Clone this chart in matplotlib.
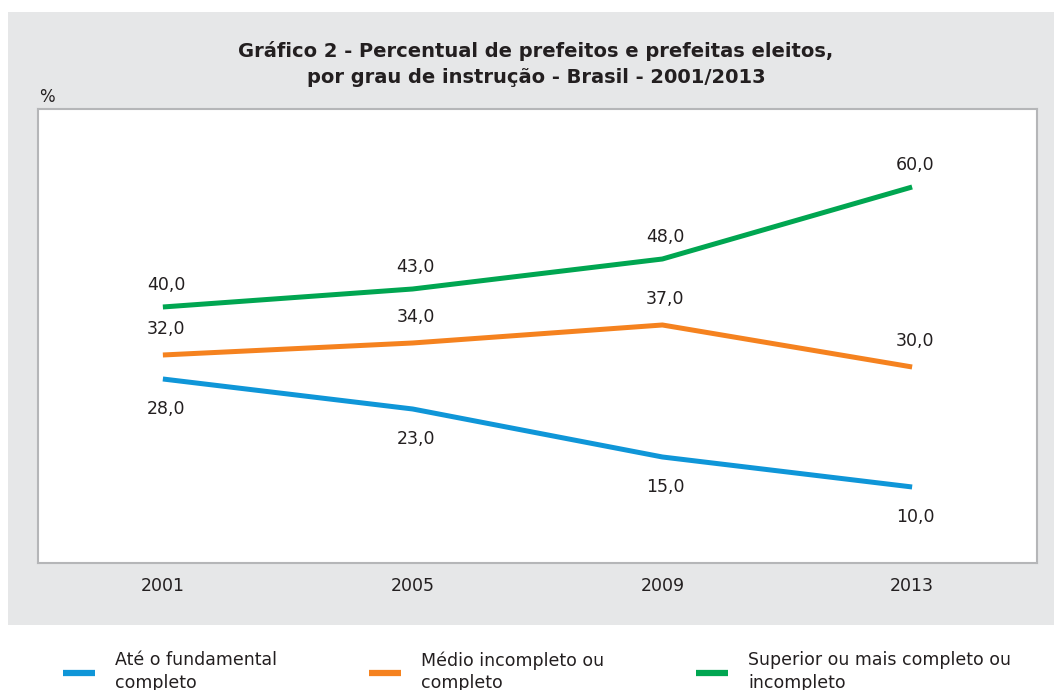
import matplotlib.pyplot as plt
from matplotlib.patches import Rectangle

plt.rcParams['font.family'] = ['DejaVu Sans']

# Dados
anos = ['2001', '2005', '2009', '2013']
fundamental = [28.0, 23.0, 15.0, 10.0]
medio = [32.0, 34.0, 37.0, 30.0]
superior = [40.0, 43.0, 48.0, 60.0]

series = [
    ('Até o fundamental\ncompleto', fundamental, '#0f96d8', -30),
    ('Médio incompleto ou\ncompleto', medio, '#f5821f', 26),
    ('Superior ou mais completo ou\nincompleto', superior, '#00a651', 22),
]

W, H = 1054, 690
fig = plt.figure(figsize=(W / 100, H / 100), dpi=100)
fig.patch.set_facecolor('white')

# painel cinza
fig.patches.append(Rectangle((8 / W, 1 - 625 / H), 1 - 8 / W, (625 - 12) / H,
                             transform=fig.transFigure, facecolor='#e6e7e8',
                             edgecolor='none', zorder=-5))

ax = fig.add_axes([38 / W, 1 - 563 / H, 999 / W, 454 / H])
ax.set_zorder(2)
ax.set_facecolor('white')
for s in ax.spines.values():
    s.set_color('#b5b6b8')
    s.set_linewidth(1.5)

texto = '#231f20'
x = list(range(len(anos)))
for nome, vals, cor, dy in series:
    ax.plot(x, vals, color=cor, lw=3.6, label=nome, solid_capstyle='butt')
    for xi, v in zip(x, vals):
        ax.annotate(f'{v:.1f}'.replace('.', ','), (xi, v), xytext=(3, dy),
                    textcoords='offset pixels', ha='center', va='center',
                    fontsize=12.5, color=texto)

ax.set_xlim(-0.5, 3.5)
ax.set_ylim(-2.67, 73)
ax.set_yticks([])
ax.set_xticks(x)
ax.set_xticklabels(anos, fontsize=12.5, color=texto)
ax.tick_params(axis='x', length=0, pad=10)

fig.text(536 / W, 1 - 64 / H, 'Gráfico 2 - Percentual de prefeitos e prefeitas eleitos,\npor grau de instrução - Brasil - 2001/2013',
         ha='center', va='center', fontsize=14, fontweight='bold', color=texto,
         linespacing=1.5)
fig.text(47 / W, 1 - 97 / H, '%', ha='center', va='center', fontsize=12, color=texto)

leg = fig.legend(loc='upper left', bbox_to_anchor=(63 / W, 1 - 651 / H), ncol=3,
                 frameon=False, fontsize=12.5, handlelength=1.85, handletextpad=1.15,
                 columnspacing=5.3, borderpad=0, borderaxespad=0, labelcolor=texto)
for t in leg.get_texts():
    t.set_linespacing(1.35)
for h in leg.legend_handles:
    h.set_linewidth(4.5)

fig.savefig('out.png', dpi=100)
